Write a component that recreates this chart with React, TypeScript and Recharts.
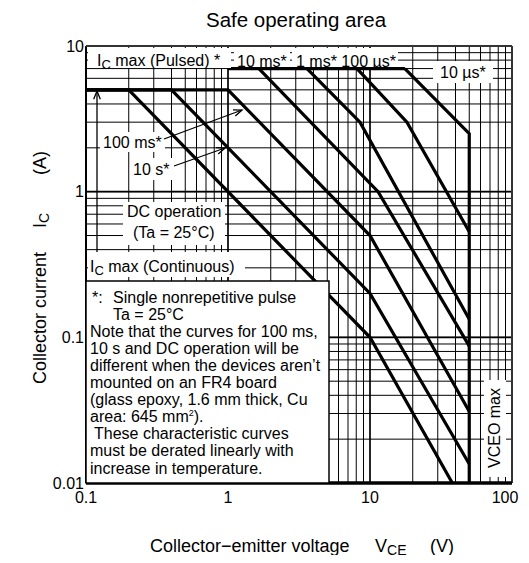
import React from "react";
import { CartesianGrid, Line, LineChart, ReferenceLine, XAxis, YAxis } from "recharts";

// VCE grid (V) and IC grid (A), log decades with 1..9 subdivisions
const xTicks = [
  0.1, 0.2, 0.3, 0.4, 0.5, 0.6, 0.7, 0.8, 0.9, 1, 2, 3, 4, 5, 6, 7, 8, 9, 10, 20, 30, 40, 50, 60, 70, 80, 90, 100,
];
const yTicks = [
  0.01, 0.02, 0.03, 0.04, 0.05, 0.06, 0.07, 0.08, 0.09, 0.1, 0.2, 0.3, 0.4, 0.5, 0.6, 0.7, 0.8, 0.9, 1, 2, 3, 4, 5,
  6, 7, 8, 9, 10,
];
const xDecades = [1, 10];
const yDecades = [0.1, 1];
const xLabels = [0.1, 1, 10, 100];
const yLabels = [0.01, 0.1, 1, 10];

// SOA boundaries: v = VCE (V), i = IC (A)
const dcOperation = [
  { v: 0.1, i: 5 },
  { v: 0.2, i: 5 },
  { v: 10, i: 0.1 },
  { v: 38, i: 0.01 },
];
const pulse10s = [
  { v: 0.1, i: 5 },
  { v: 0.4, i: 5 },
  { v: 10, i: 0.2 },
  { v: 50, i: 0.0135 },
];
const pulse100ms = [
  { v: 0.1, i: 5 },
  { v: 1, i: 5 },
  { v: 10, i: 0.5 },
  { v: 50, i: 0.031 },
];
const pulsedMax = [
  { v: 1, i: 7 },
  { v: 17.6, i: 7 },
];
const pulse10ms = [
  { v: 1.65, i: 7 },
  { v: 11.4, i: 1 },
  { v: 50, i: 0.087 },
];
const pulse1ms = [
  { v: 3.6, i: 7 },
  { v: 8.5, i: 3 },
  { v: 50, i: 0.133 },
];
const pulse100us = [
  { v: 8.1, i: 7 },
  { v: 18.2, i: 3 },
  { v: 50, i: 0.53 },
];
const pulse10us = [
  { v: 17.6, i: 7 },
  { v: 50, i: 2.5 },
  { v: 50, i: 0.01 },
];

const curves = [dcOperation, pulse10s, pulse100ms, pulsedMax, pulse10ms, pulse1ms, pulse100us, pulse10us];

const FONT = '"Liberation Sans", Arial, Helvetica, sans-serif';

const noteLines = [
  { x: 84, text: "*:" },
  { x: 105, text: "Single nonrepetitive pulse", sameRow: true },
  { x: 105, text: "Ta = 25°C" },
  { x: 82, text: "Note that the curves for 100 ms," },
  { x: 82, text: "10 s and DC operation will be" },
  { x: 82, text: "different when the devices aren’t" },
  { x: 82, text: "mounted on an FR4 board" },
  { x: 82, text: "(glass epoxy, 1.6 mm thick, Cu" },
  { x: 82, text: "area: 645 mm", sup: true },
  { x: 86, text: "These characteristic curves" },
  { x: 82, text: "must be derated linearly with" },
  { x: 82, text: "increase in temperature." },
];

// x tick label; the last one is pulled inward so it stays on the page
function VoltTick(props: any) {
  const { x, y, payload } = props;
  const v = payload.value;
  if (!xLabels.includes(v)) return null;
  const shift = v === 100 ? -7 : 0;
  return (
    <text x={x + shift} y={y} dy="0.71em" textAnchor="middle" fontSize={16} fill="#000" fontFamily={FONT}>
      {String(v)}
    </text>
  );
}

function Arrow({ x1, y1, x2, y2 }: { x1: number; y1: number; x2: number; y2: number }) {
  const a = Math.atan2(y2 - y1, x2 - x1);
  const len = 9;
  const spread = 0.38;
  const p1 = [x2 - len * Math.cos(a - spread), y2 - len * Math.sin(a - spread)];
  const p2 = [x2 - len * Math.cos(a + spread), y2 - len * Math.sin(a + spread)];
  return (
    <g stroke="#000" strokeWidth={1.3} fill="none">
      <line x1={x1} y1={y1} x2={x2} y2={y2} />
      <polyline points={`${p1[0]},${p1[1]} ${x2},${y2} ${p2[0]},${p2[1]}`} />
    </g>
  );
}

function Annotations() {
  let row = -1;
  return (
    <svg
      width={521}
      height={555}
      style={{ position: "absolute", left: 0, top: 0, pointerEvents: "none", fontFamily: FONT, overflow: "visible" }}
    >
      <text x={288} y={19} fontSize={20.5} textAnchor="middle" fill="#000">
        Safe operating area
      </text>

      {/* labels along the pulsed limit */}
      <rect x={80} y={40} width={143} height={20} fill="#fff" />
      <text x={89} y={58} fontSize={16} fill="#000">
        I<tspan fontSize={13} dy={3}>C</tspan>
        <tspan dy={-3}> max (Pulsed) *</tspan>
      </text>
      <rect x={226} y={40} width={56} height={19} fill="#fff" />
      <text x={229} y={59} fontSize={16} fill="#000">
        10 ms*
      </text>
      <rect x={284} y={40} width={106} height={19} fill="#fff" />
      <text x={288} y={59} fontSize={16} fill="#000">
        1 ms* 100 µs*
      </text>
      <rect x={425} y={53} width={60} height={22} fill="#fff" />
      <text x={432} y={70} fontSize={16} fill="#000">
        10 µs*
      </text>

      <rect x={92} y={124} width={65} height={20} fill="#fff" />
      <text x={95} y={140} fontSize={16} fill="#000">
        100 ms*
      </text>
      <rect x={122} y={150} width={45} height={22} fill="#fff" />
      <text x={125} y={167} fontSize={16} fill="#000">
        10 s*
      </text>
      <Arrow x1={156} y1={131} x2={234} y2={102} />
      <Arrow x1={166} y1={158} x2={217} y2={140} />
      <Arrow x1={89} y1={244} x2={89} y2={83} />

      <rect x={115} y={194} width={102} height={43} fill="#fff" />
      <text x={119} y={209} fontSize={16} fill="#000">
        DC operation
      </text>
      <text x={125} y={230} fontSize={16} fill="#000">
        (Ta = 25°C)
      </text>

      <rect x={80} y={244} width={157} height={25} fill="#fff" />
      <text x={82} y={264} fontSize={16} fill="#000">
        I<tspan fontSize={13} dy={3}>C</tspan>
        <tspan dy={-3}> max (Continuous)</tspan>
      </text>

      {/* footnote */}
      <rect x={78} y={273} width={243} height={202} fill="#fff" stroke="#000" strokeWidth={1.5} />
      {noteLines.map((l, idx) => {
        if (!l.sameRow) row += 1;
        const y = 294.5 + row * 17.1;
        return (
          <text key={idx} x={l.x} y={y} fontSize={16} fill="#000">
            {l.text}
            {l.sup ? (
              <>
                <tspan fontSize={9} dy={-6}>
                  2
                </tspan>
                <tspan dy={6}>).</tspan>
              </>
            ) : null}
          </text>
        );
      })}

      <rect x={476} y={372} width={22} height={97} fill="#fff" />
      <text x={492} y={420} fontSize={16} fill="#000" textAnchor="middle" transform="rotate(-90 492 420)">
        VCEO max
      </text>

      {/* axis titles */}
      <text x={38} y={310} fontSize={18} fill="#000" textAnchor="middle" transform="rotate(-90 38 310)">
        Collector current
      </text>
      <text x={38} y={220} fontSize={18} fill="#000" transform="rotate(-90 38 220)">
        I<tspan fontSize={14} dy={3}>C</tspan>
      </text>
      <text x={38} y={167} fontSize={18} fill="#000" transform="rotate(-90 38 167)">
        (A)
      </text>
      <text x={142} y={544} fontSize={18} fill="#000">
        Collector−emitter voltage
      </text>
      <text x={367} y={544} fontSize={18} fill="#000">
        V<tspan fontSize={14} dy={3}>CE</tspan>
      </text>
      <text x={422} y={544} fontSize={18} fill="#000">
        (V)
      </text>
    </svg>
  );
}

export default function App() {
  return (
    <div style={{ position: "relative", width: 521, height: 547, fontFamily: FONT, background: "#fff" }}>
      <LineChart width={521} height={547} margin={{ top: 38, right: 17, bottom: 32, left: 0 }}>
        <CartesianGrid stroke="#000" strokeWidth={1} />
        <XAxis
          type="number"
          dataKey="v"
          scale="log"
          domain={[0.1, 100]}
          allowDataOverflow
          ticks={xTicks}
          interval={0}
          tickSize={0}
          tickMargin={9}
          height={40}
          axisLine={false}
          tick={<VoltTick />}
        />
        <YAxis
          type="number"
          dataKey="i"
          scale="log"
          domain={[0.01, 10]}
          allowDataOverflow
          ticks={yTicks}
          tickFormatter={(v: number) => (yLabels.includes(v) ? String(v) : "")}
          interval={0}
          tickSize={0}
          tickMargin={2}
          width={78}
          axisLine={false}
          tick={{ fill: "#000", fontSize: 16, fontFamily: FONT }}
        />
        {xDecades.map((v) => (
          <ReferenceLine key={`x${v}`} x={v} stroke="#000" strokeWidth={1.4} />
        ))}
        {yDecades.map((v) => (
          <ReferenceLine key={`y${v}`} y={v} stroke="#000" strokeWidth={1.6} />
        ))}
        {curves.map((d, idx) => (
          <Line
            key={idx}
            data={d}
            dataKey="i"
            type="linear"
            stroke="#000"
            strokeWidth={3.2}
            dot={false}
            activeDot={false}
            isAnimationActive={false}
          />
        ))}
        {/* plot frame */}
        <ReferenceLine x={0.1} stroke="#000" strokeWidth={2} />
        <ReferenceLine x={100} stroke="#333" strokeWidth={2} />
        <ReferenceLine y={10} stroke="#333" strokeWidth={2} />
        <ReferenceLine y={0.01} stroke="#000" strokeWidth={3.5} />
      </LineChart>
      <Annotations />
    </div>
  );
}
